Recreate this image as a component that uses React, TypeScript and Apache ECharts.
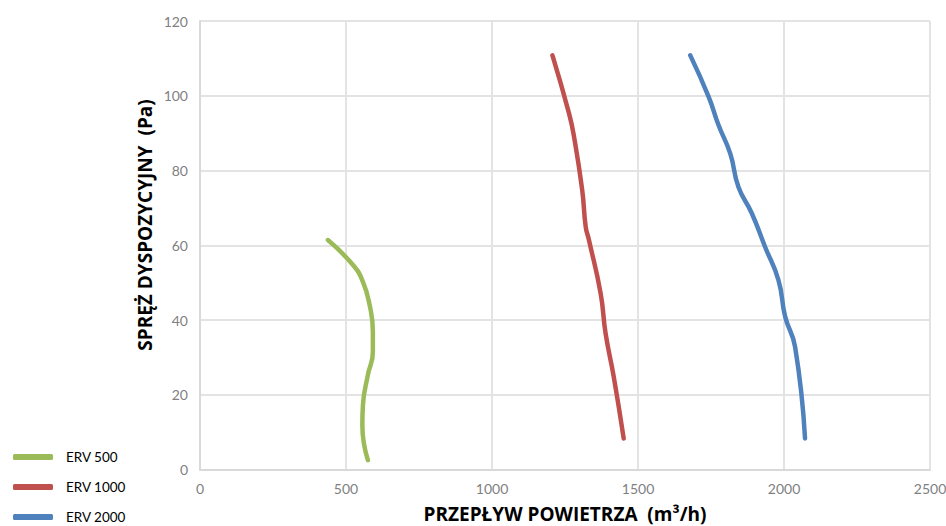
import React, { useEffect, useRef } from "react";
import * as echarts from "echarts";

const seriesNames = ["ERV 500", "ERV 1000", "ERV 2000"];
const seriesColors = ["#9bbb59", "#c0504d", "#4f81bd"];

const erv500: [number, number][] = [
  [438, 61.4], [524, 54.7], [558, 50.2], [581, 44], [592, 36.8], [592, 31.5],
  [575, 25.3], [558, 17.2], [556, 11.9], [575, 2.5],
];
const erv1000: [number, number][] = [
  [1207, 110.8], [1264, 95.2], [1281, 89], [1309, 74.7], [1321, 64.9], [1332, 61.4],
  [1372, 47.1], [1389, 36.4], [1417, 24.8], [1451, 8.3],
];
const erv2000: [number, number][] = [
  [1679, 110.8], [1742, 99.7], [1776, 92.1], [1816, 84.5], [1844, 75.6], [1890, 68.5],
  [1935, 59.6], [1981, 50.7], [2004, 40.9], [2038, 32.8], [2072, 8.3],
];
const allData = [erv500, erv1000, erv2000];

const FONT = "Lato, 'Open Sans', sans-serif";
const TITLE_FONT = "'Open Sans', sans-serif";

export default function App() {
  const ref = useRef<HTMLDivElement>(null);
  useEffect(() => {
    if (!ref.current) return;
    const chart = echarts.init(ref.current, undefined, { renderer: "svg" });
    const legends = seriesNames.map((name, i) => ({
      orient: "vertical",
      left: 8,
      top: 445 + i * 30,
      itemWidth: 40,
      itemHeight: 6,
      icon: "roundRect",
      textStyle: { fontFamily: FONT, fontSize: 13.5, color: "#000", padding: [0, 0, 0, 8] },
      data: [name],
    }));
    chart.setOption({
      animation: false,
      textStyle: { fontFamily: FONT },
      grid: { left: 200, right: 16, top: 21, bottom: 56.5, outerBoundsMode: "none", containLabel: false },
      legend: legends,
      graphic: [
        {
          type: "text",
          x: 145,
          y: 225,
          rotation: Math.PI / 2,
          style: {
            text: "SPRĘŻ DYSPOZYCYJNY  (Pa)",
            align: "center",
            verticalAlign: "middle",
            fontFamily: TITLE_FONT,
            fontWeight: "bold",
            fontSize: 19,
            fill: "#000",
          },
        },
      ],
      xAxis: {
        type: "value",
        min: 0,
        max: 2500,
        interval: 500,
        name: "PRZEPŁYW POWIETRZA  (m³/h)",
        nameLocation: "middle",
        nameGap: 35,
        nameTextStyle: { fontFamily: TITLE_FONT, fontWeight: "bold", fontSize: 19, color: "#000" },
        axisLine: { lineStyle: { color: "#d9d9d9", width: 2 } },
        axisTick: { show: false },
        axisLabel: { color: "#7f7f7f", fontSize: 14, margin: 12, fontFamily: FONT, formatter: (v: number) => String(v) },
        splitLine: { show: true, lineStyle: { color: "#e3e3e3", width: 2 } },
      },
      yAxis: {
        type: "value",
        min: 0,
        max: 120,
        interval: 20,
        axisLine: { show: true, lineStyle: { color: "#d9d9d9", width: 2 } },
        axisTick: { show: false },
        axisLabel: { color: "#7f7f7f", fontSize: 14, margin: 12, fontFamily: FONT, formatter: (v: number) => String(v) },
        splitLine: { show: true, lineStyle: { color: "#e3e3e3", width: 2 } },
      },
      series: seriesNames.map((name, i) => ({
        name,
        type: "line",
        data: allData[i],
        smooth: true,
        showSymbol: false,
        symbol: "none",
        color: seriesColors[i],
        lineStyle: { width: 4.5, color: seriesColors[i], cap: "round" },
      })),
    });
    return () => chart.dispose();
  }, []);
  return <div ref={ref} style={{ width: 946, height: 526, position: "absolute", left: 0, top: 0 }} />;
}
